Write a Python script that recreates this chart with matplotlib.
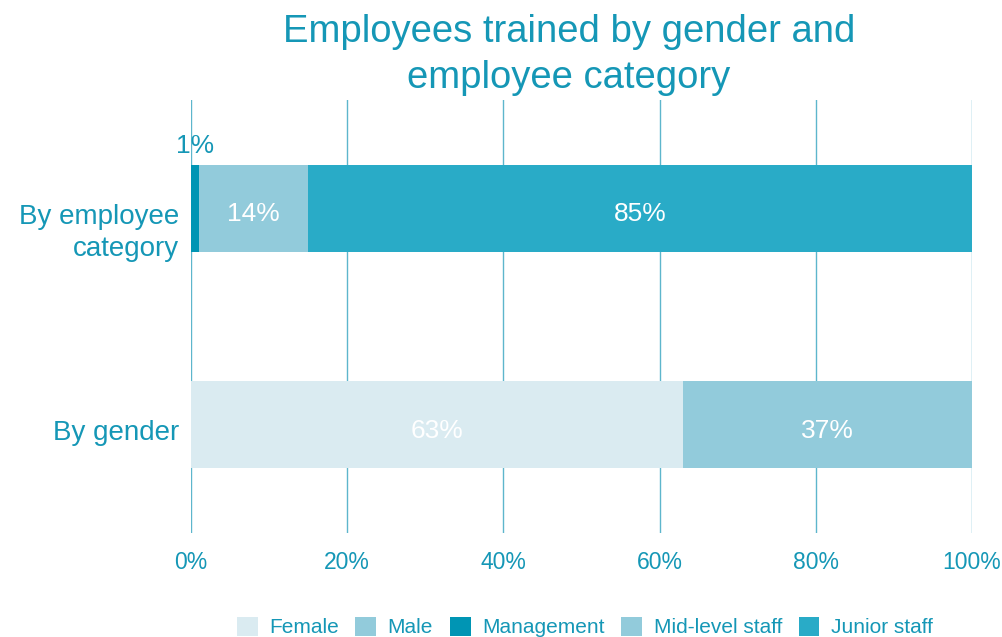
import numpy as np
import matplotlib
matplotlib.use("Agg")
import matplotlib.pyplot as plt
from matplotlib.transforms import ScaledTranslation

plt.rcParams["font.family"] = ["Liberation Sans", "DejaVu Sans"]

# data
categories = ["By gender", "By employee\ncategory"]
gender_labels = ["Female", "Male"]
gender_values = [63, 37]
staff_labels = ["Management", "Mid-level staff", "Junior staff"]
staff_values = [1, 14, 85]
x_ticks = [0, 20, 40, 60, 80, 100]

text_c = "#1597B6"
grid_c = "#5DB6CC"
colors = {
    "Female": "#DAEBF1",
    "Male": "#92CBDB",
    "Management": "#0095B4",
    "Mid-level staff": "#92CBDB",
    "Junior staff": "#29ABC7",
}

fig = plt.figure(figsize=(10.03, 6.37), dpi=100)
ax = fig.add_axes([0.1904, 0.1633, 0.7787, 0.6797])

bar_h = 0.4
handles = []
lab_off = -0.028  # labels sit a little below bar centre

# by gender (y=0)
left = 0
for lab, v in zip(gender_labels, gender_values):
    b = ax.barh(0, v, left=left, height=bar_h, color=colors[lab], label=lab, zorder=3)
    handles.append(b)
    ax.text(left + v / 2, 0 + lab_off, f"{v}%", ha="center", va="center",
            color="white", fontsize=19, zorder=4)
    left += v

# by employee category (y=1)
left = 0
for lab, v in zip(staff_labels, staff_values):
    b = ax.barh(1, v, left=left, height=bar_h, color=colors[lab], label=lab, zorder=3)
    handles.append(b)
    if v < 5:
        ax.text(left + v / 2, 1 + bar_h / 2 + 0.03, f"{v}%", ha="center", va="bottom",
                color=text_c, fontsize=19, zorder=4)
    else:
        ax.text(left + v / 2, 1 + lab_off, f"{v}%", ha="center", va="center",
                color="white", fontsize=19, zorder=4)
    left += v

ax.set_xlim(0, 100)
ax.set_ylim(-0.5, 1.5)
ax.set_xticks(x_ticks)
ax.set_xticklabels([f"{t}%" for t in x_ticks], color=text_c, fontsize=16.5)
ax.set_yticks([0, 1])
ax.set_yticklabels(categories, color=text_c, fontsize=20, linespacing=1.34)
ax.tick_params(axis="both", length=0)
ax.tick_params(axis="x", pad=13)
ax.tick_params(axis="y", pad=8.6)
shift = ScaledTranslation(0, 3.4 / 72, fig.dpi_scale_trans)
for lbl in ax.get_yticklabels():
    lbl.set_horizontalalignment("right")
    lbl.set_multialignment("right")
    lbl.set_verticalalignment("top")
    lbl.set_transform(lbl.get_transform() + shift)

ax.grid(axis="x", color=grid_c, linewidth=1, zorder=0)
for s in ax.spines.values():
    s.set_visible(False)

fig.suptitle("Employees trained by gender and\nemployee category", color=text_c,
             fontsize=27.5, y=0.978, va="top", linespacing=1.37, x=0.567)

fig.legend(handles=handles, labels=gender_labels + staff_labels, loc="center",
           bbox_to_anchor=(0.583, 1 - 627 / 637), ncol=5, frameon=False,
           fontsize=15, labelcolor=text_c, handlelength=1.0, handleheight=1.05,
           columnspacing=0.8, handletextpad=0.55)

plt.savefig("out.png", dpi=100)
